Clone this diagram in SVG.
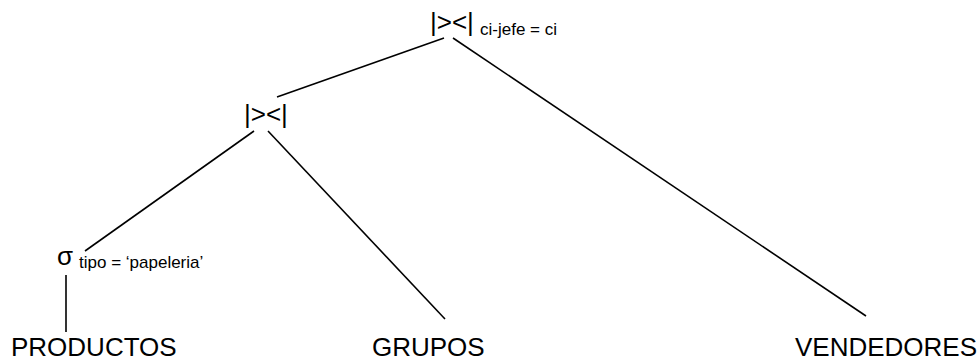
<svg xmlns="http://www.w3.org/2000/svg" width="979" height="362" viewBox="0 0 979 362">
<style>
.t{font-family:"Liberation Sans",Arial,sans-serif;fill:#000}
.big{font-size:26px}
.sub{font-size:17px}
.e{stroke:#000;stroke-width:1.6;fill:none}
</style>
<rect width="979" height="362" fill="#fff"/>
<g id="connectors">
<line class="e" x1="444" y1="38" x2="277" y2="97"/>
<line class="e" x1="453" y1="38" x2="866" y2="316"/>
<line class="e" x1="254" y1="131" x2="85" y2="251"/>
<line class="e" x1="268" y1="131" x2="445" y2="319"/>
<line class="e" x1="66" y1="275" x2="66" y2="332"/>
</g>
<g id="join-top">
<text class="t big" x="430" y="31">|&gt;&lt;|</text>
<text class="t sub" x="480" y="35">ci-jefe = ci</text>
</g>
<g id="join-mid">
<text class="t big" x="244" y="123">|&gt;&lt;|</text>
</g>
<g id="select">
<text class="t big" x="57" y="265">σ</text>
<text class="t sub" x="79" y="268">tipo = ‘papeleria’</text>
</g>
<g id="productos"><text class="t big" x="11" y="356">PRODUCTOS</text></g>
<g id="grupos"><text class="t big" x="372" y="356">GRUPOS</text></g>
<g id="vendedores"><text class="t big" x="795" y="356">VENDEDORES</text></g>
</svg>
